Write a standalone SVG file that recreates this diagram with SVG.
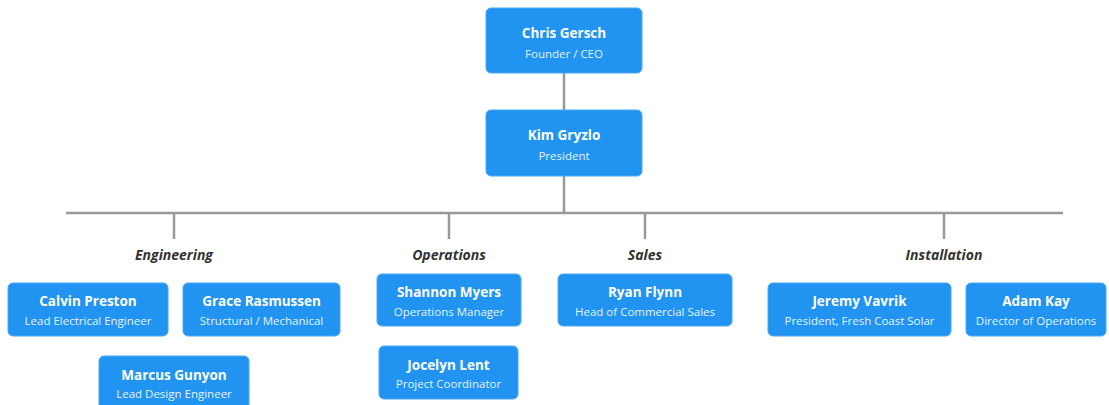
<svg xmlns="http://www.w3.org/2000/svg" width="1109" height="405" viewBox="0 0 1109 405">
<style>
.box{fill:#2094F0;stroke:#4AA8F5;stroke-width:1}
.nm{font-family:"Open Sans","Noto Sans",sans-serif;font-weight:700;font-size:13.5px;fill:#fff;text-anchor:middle}
.tt{font-family:"Open Sans","Noto Sans",sans-serif;font-size:11.5px;fill:#E6F2FD;text-anchor:middle}
.dept{font-family:"Open Sans","Noto Sans",sans-serif;font-weight:700;font-style:italic;font-size:14px;fill:#333;text-anchor:middle}
.ln{stroke:#999;stroke-width:2.5;fill:none}
</style>
<rect width="1109" height="405" fill="#fff"/>
<g id="connectors">
<line class="ln" x1="564" y1="73" x2="564" y2="110"/>
<line class="ln" x1="564" y1="176" x2="564" y2="213"/>
<line class="ln" x1="66" y1="213" x2="1063" y2="213"/>
<line class="ln" x1="174" y1="213" x2="174" y2="239"/>
<line class="ln" x1="449" y1="213" x2="449" y2="239"/>
<line class="ln" x1="645" y1="213" x2="645" y2="239"/>
<line class="ln" x1="944" y1="213" x2="944" y2="239"/>
</g>
<g id="dept-labels">
<text class="dept" x="174" y="260">Engineering</text>
<text class="dept" x="449" y="260">Operations</text>
<text class="dept" x="645" y="260">Sales</text>
<text class="dept" x="944" y="260">Installation</text>
</g>
<g id="chris"><rect class="box" x="486" y="8" width="156" height="65" rx="5"/><text class="nm" x="564" y="38">Chris Gersch</text><text class="tt" x="564" y="58">Founder / CEO</text></g>
<g id="kim"><rect class="box" x="486" y="110" width="156" height="66" rx="5"/><text class="nm" x="564" y="140">Kim Gryzlo</text><text class="tt" x="564" y="160">President</text></g>
<g id="calvin"><rect class="box" x="8" y="283" width="160" height="53" rx="5"/><text class="nm" x="88" y="306">Calvin Preston</text><text class="tt" x="88" y="325">Lead Electrical Engineer</text></g>
<g id="grace"><rect class="box" x="183" y="283" width="157" height="53" rx="5"/><text class="nm" x="261.5" y="306">Grace Rasmussen</text><text class="tt" x="261.5" y="325">Structural / Mechanical</text></g>
<g id="marcus"><rect class="box" x="99" y="356" width="150" height="60" rx="5"/><text class="nm" x="174" y="380">Marcus Gunyon</text><text class="tt" x="174" y="398">Lead Design Engineer</text></g>
<g id="shannon"><rect class="box" x="377" y="274" width="144" height="52" rx="5"/><text class="nm" x="449" y="297">Shannon Myers</text><text class="tt" x="449" y="316">Operations Manager</text></g>
<g id="jocelyn"><rect class="box" x="379" y="346" width="139" height="53" rx="5"/><text class="nm" x="448.5" y="370">Jocelyn Lent</text><text class="tt" x="448.5" y="388">Project Coordinator</text></g>
<g id="ryan"><rect class="box" x="558" y="274" width="174" height="52" rx="5"/><text class="nm" x="645" y="297">Ryan Flynn</text><text class="tt" x="645" y="316">Head of Commercial Sales</text></g>
<g id="jeremy"><rect class="box" x="768" y="283" width="183" height="53" rx="5"/><text class="nm" x="859.5" y="306">Jeremy Vavrik</text><text class="tt" x="859.5" y="325">President, Fresh Coast Solar</text></g>
<g id="adam"><rect class="box" x="966" y="283" width="140" height="53" rx="5"/><text class="nm" x="1036" y="306">Adam Kay</text><text class="tt" x="1036" y="325">Director of Operations</text></g>
</svg>
